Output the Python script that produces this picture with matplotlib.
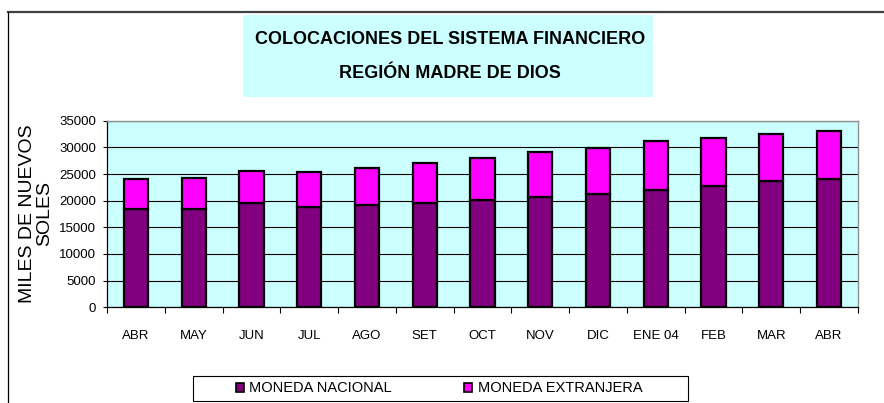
import matplotlib
matplotlib.use("Agg")
import matplotlib.pyplot as plt
from matplotlib import font_manager
from matplotlib.patches import Rectangle, Patch
from matplotlib.lines import Line2D

months = ["ABR", "MAY", "JUN", "JUL", "AGO", "SET", "OCT", "NOV", "DIC",
          "ENE 04", "FEB", "MAR", "ABR"]
nacional = [18500, 18500, 19560, 18750, 19125, 19560, 20125, 20625, 21310,
            21940, 22750, 23625, 24060]
total = [24060, 24250, 25625, 25375, 26125, 27060, 27940, 29125, 29810,
         31125, 31690, 32440, 33125]
extranjera = [t - n for t, n in zip(total, nacional)]
yticks = [0, 5000, 10000, 15000, 20000, 25000, 30000, 35000]

PURPLE = "#800080"
MAGENTA = "#FF00FF"
CYAN = "#CCFFFF"

names = {f.name for f in font_manager.fontManager.ttflist}
BASE = "Liberation Sans" if "Liberation Sans" in names else "DejaVu Sans"
NARROW = "Liberation Sans Narrow" if "Liberation Sans Narrow" in names else BASE
plt.rcParams["font.family"] = [BASE, "DejaVu Sans"]

W, H = 884, 403
fig = plt.figure(figsize=(W / 100, H / 100), dpi=100)


def fx(px):
    return px / W


def fy(py):
    return (H - py) / H


# outer frame of the chart object (only top and left visible)
fig.add_artist(Line2D([fx(8), 1.0], [fy(12), fy(12)], color="#404040", lw=1.6,
                      transform=fig.transFigure))
fig.add_artist(Line2D([fx(8), fx(8)], [fy(12), 0.0], color="black", lw=0.9,
                      transform=fig.transFigure))

# title box
fig.add_artist(Rectangle((fx(243), fy(97)), fx(653) - fx(243), fy(15) - fy(97),
                         transform=fig.transFigure, facecolor=CYAN,
                         edgecolor="none"))
tsize = 15.5 if NARROW != BASE else 13
fig.text(fx(450), fy(40), "COLOCACIONES DEL SISTEMA FINANCIERO", ha="center",
         va="center", fontsize=tsize, fontweight="bold", family=NARROW)
fig.text(fx(450), fy(73), "REGIÓN MADRE DE DIOS", ha="center",
         va="center", fontsize=tsize, fontweight="bold", family=NARROW)

ax = fig.add_axes([fx(107), fy(307.3), fx(858) - fx(107), fy(120.7) - fy(307.3)])
ax.set_facecolor(CYAN)
x = list(range(len(months)))
ax.bar(x, nacional, width=0.42, color=PURPLE, edgecolor="black", linewidth=1.6,
       zorder=3, label="MONEDA NACIONAL")
ax.bar(x, extranjera, bottom=nacional, width=0.42, color=MAGENTA,
       edgecolor="black", linewidth=1.6, zorder=3, label="MONEDA EXTRANJERA")

ax.set_xlim(-0.5, len(months) - 0.5)
ax.set_ylim(0, 35000)
ax.set_yticks(yticks)
ax.set_yticklabels([str(v) for v in yticks], fontsize=9.5)
ax.yaxis.grid(True, color="black", linewidth=0.8, zorder=0)
ax.set_axisbelow(True)
ax.set_xticks(x)
ax.set_xticklabels(months, fontsize=9.5)
ax.set_xticks([i - 0.5 for i in range(len(months) + 1)], minor=True)
ax.tick_params(axis="x", which="major", length=0, pad=16)
ax.tick_params(axis="x", which="minor", length=4, direction="out", width=0.8)
ax.tick_params(axis="y", length=3, width=0.8, pad=5)
for side in ("top", "right"):
    ax.spines[side].set_color("#909090")
    ax.spines[side].set_linewidth(1.0)
for side in ("left", "bottom"):
    ax.spines[side].set_color("black")
    ax.spines[side].set_linewidth(0.9)

fig.text(fx(36), fy(214), "MILES DE NUEVOS\nSOLES", rotation=90, ha="center",
         va="center", fontsize=14, multialignment="center", linespacing=0.95)

# legend
fig.add_artist(Rectangle((fx(193), fy(401)), fx(688) - fx(193), fy(376) - fy(401),
                         transform=fig.transFigure, facecolor="white",
                         edgecolor="black", linewidth=0.8))
handles = [Patch(facecolor=PURPLE, edgecolor="black", linewidth=1.2),
           Patch(facecolor=MAGENTA, edgecolor="black", linewidth=1.2)]
fig.legend(handles, ["MONEDA NACIONAL", "MONEDA EXTRANJERA"], ncol=2,
           loc="center", bbox_to_anchor=(fx(439), fy(388.5)), frameon=False,
           fontsize=10.5, handlelength=0.55, handleheight=0.55,
           handletextpad=0.35, columnspacing=5.0, borderpad=0)

fig.savefig("out.png", dpi=100)
